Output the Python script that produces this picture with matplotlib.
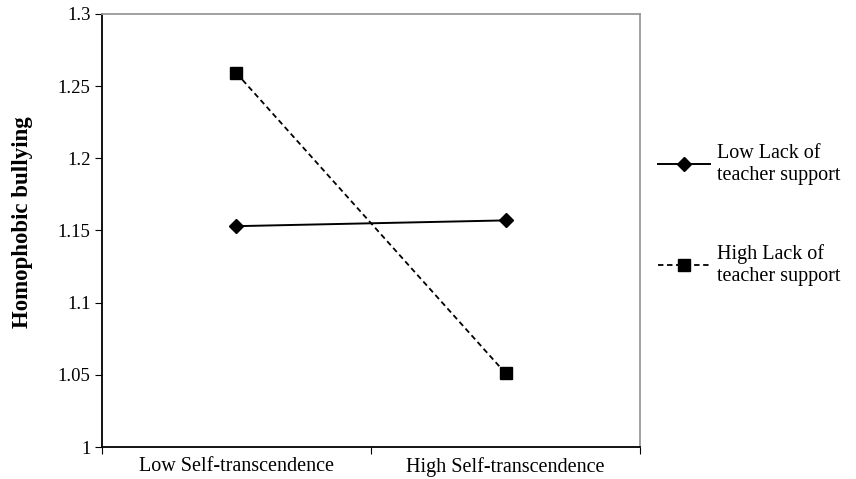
import matplotlib.pyplot as plt

# --- данные ---
categories = ["Low Self-transcendence", "High Self-transcendence"]
low_lack = [1.153, 1.157]
high_lack = [1.259, 1.051]
series_labels = ["Low Lack of\nteacher support", "High Lack of\nteacher support"]
y_ticks = [1, 1.05, 1.1, 1.15, 1.2, 1.25, 1.3]

plt.rcParams['font.family'] = ['Liberation Serif', 'DejaVu Serif']

fig = plt.figure(figsize=(8.56, 4.79), dpi=100)
ax = fig.add_axes([0.119, 0.0668, 0.629, 0.904])

x = [i + 0.5 for i in range(len(categories))]
ax.plot(x, low_lack, color="black", lw=1.4, marker="D", ms=7.5, label=series_labels[0])
ax.plot(x, high_lack, color="black", lw=1.3, ls=(0, (3, 2)), marker="s", ms=8.5,
        label=series_labels[1])

ax.set_xlim(0, len(categories))
ax.set_ylim(1, 1.3)
ax.set_yticks(y_ticks)
ax.set_yticklabels([f"{v:g}" for v in y_ticks])

# ticks на границах категорий, подписи по центру
ax.set_xticks(range(len(categories) + 1))
ax.set_xticklabels([])
ax.set_xticks(x, minor=True)
ax.set_xticklabels(categories, minor=True)
ax.tick_params(axis="x", which="minor", length=0, pad=7, labelsize=14.5)
ax.tick_params(axis="x", which="major", length=5, direction="out")
ax.tick_params(axis="y", length=5, direction="out", labelsize=13.5, pad=3)

for s in ["left", "bottom"]:
    ax.spines[s].set_color("black")
    ax.spines[s].set_linewidth(1.3)
for s in ["top", "right"]:
    ax.spines[s].set_color("#999999")
    ax.spines[s].set_linewidth(1.3)

ax.set_ylabel("Homophobic bullying", fontsize=16.5, fontweight="bold")
ax.yaxis.set_label_coords(-0.128, 0.52)

leg = ax.legend(loc="center left", bbox_to_anchor=(1.033, 0.536), frameon=False,
                fontsize=14.5, handlelength=2.6, handletextpad=0.35, labelspacing=2.95,
                borderaxespad=0, borderpad=0)
for t in leg.get_texts():
    t.set_linespacing(1.2)

fig.savefig("out.png", dpi=100)
